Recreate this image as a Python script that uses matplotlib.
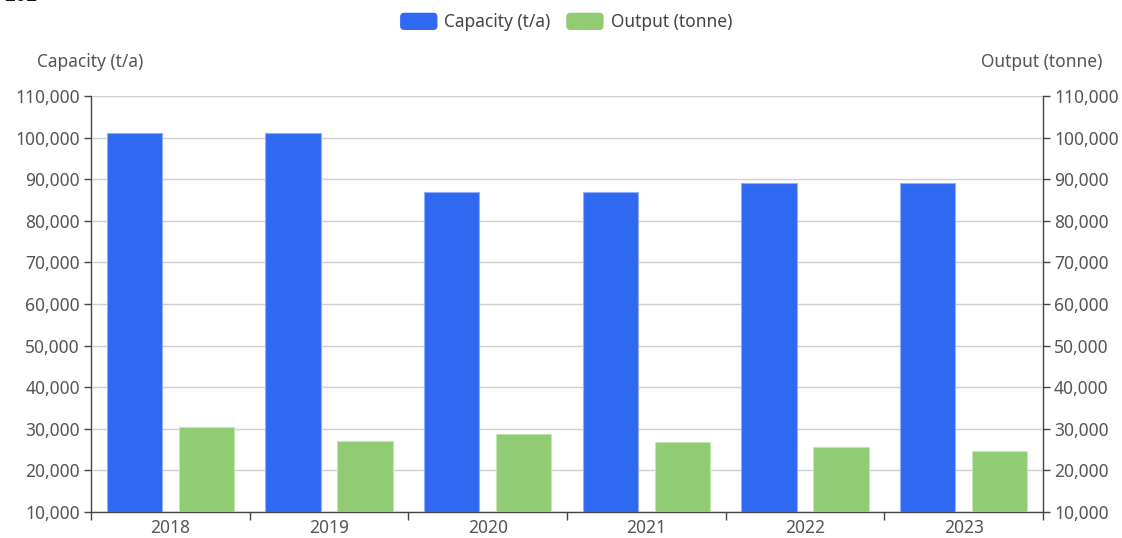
import matplotlib
matplotlib.use("Agg")
import matplotlib.pyplot as plt
import numpy as np
from matplotlib.patches import FancyBboxPatch, Patch
from matplotlib.legend_handler import HandlerPatch
from matplotlib.ticker import FuncFormatter, MultipleLocator

plt.rcParams['font.family'] = ['Noto Sans', 'DejaVu Sans']

years = ['2018', '2019', '2020', '2021', '2022', '2023']
capacity = [101000, 101000, 87000, 87000, 89000, 89000]
output = [30500, 27000, 28700, 26800, 25700, 24600]
series_names = ['Capacity (t/a)', 'Output (tonne)']
colors = ['#3069F1', '#91CB74']

FS = 12.5
W, H = 1122, 538
fig = plt.figure(figsize=(W / 100, H / 100), dpi=100)
left, right, top, bottom = 91, 1043, 96, 512
ax = fig.add_axes([left / W, (H - bottom) / H, (right - left) / W, (bottom - top) / H])

x = np.arange(len(years))
bw = 0.347
off = 0.227
ax.bar(x - off, capacity, width=bw, color=colors[0], edgecolor='#8fb0f7', linewidth=0.8, zorder=3, label=series_names[0])
ax.bar(x + off, output, width=bw, color=colors[1], edgecolor='#c6e5b5', linewidth=0.8, zorder=3, label=series_names[1])

ax.set_xlim(-0.5, len(years) - 0.5)
ax.set_ylim(10000, 110000)
ax.yaxis.set_major_locator(MultipleLocator(10000))
fmt = FuncFormatter(lambda v, p: f"{int(v):,}")
ax.yaxis.set_major_formatter(fmt)
ax.grid(axis='y', color='#d0d0d0', linewidth=1, zorder=0)
ax.set_axisbelow(True)

for s in ['top', 'right']:
    ax.spines[s].set_visible(False)
for s in ['left', 'bottom']:
    ax.spines[s].set_color('#444444')
    ax.spines[s].set_linewidth(1)

ax.set_xticks(np.arange(-0.5, len(years), 1.0))
ax.set_xticklabels([])
ax.set_xticks(x, minor=True)
ax.set_xticklabels(years, minor=True)
ax.tick_params(axis='x', which='major', length=6, width=1, color='#444444', direction='out')
ax.tick_params(axis='x', which='minor', length=0, labelsize=FS, labelcolor='#555555', pad=5)
ax.tick_params(axis='y', length=5, width=1, color='#444444', labelsize=FS, labelcolor='#555555', pad=3)

ax2 = ax.twinx()
ax2.set_ylim(10000, 110000)
ax2.yaxis.set_major_locator(MultipleLocator(10000))
ax2.yaxis.set_major_formatter(fmt)
for s in ['top', 'left', 'bottom']:
    ax2.spines[s].set_visible(False)
ax2.spines['right'].set_color('#444444')
ax2.spines['right'].set_linewidth(1)
ax2.tick_params(axis='y', length=5, width=1, color='#444444', labelsize=FS, labelcolor='#555555', pad=3)

fig.text(90 / W, 1 - 62 / H, series_names[0], ha='center', va='center', fontsize=FS, color='#555555')
fig.text(1042 / W, 1 - 62 / H, series_names[1], ha='center', va='center', fontsize=FS, color='#555555')

# cut-off title fragment at top-left
fig.text(4 / W, 1 + 4 / H, '202', ha='left', va='center', fontsize=14, fontweight='bold', color='#111111')


class RoundHandler(HandlerPatch):
    def create_artists(self, legend, orig_handle, xdescent, ydescent, width, height, fontsize, trans):
        p = FancyBboxPatch((-xdescent, -ydescent), width, height,
                           boxstyle="round,pad=0,rounding_size=3",
                           facecolor=orig_handle.get_facecolor(), edgecolor='none', transform=trans)
        return [p]


handles = [Patch(facecolor=c) for c in colors]
leg = fig.legend(handles, series_names, loc='center', bbox_to_anchor=(566 / W, 1 - 22 / H),
                 ncol=2, frameon=False, fontsize=FS, handlelength=2.15, handleheight=1.15,
                 handletextpad=0.4, columnspacing=0.9,
                 handler_map={Patch: RoundHandler()})
for t in leg.get_texts():
    t.set_color('#444444')

fig.savefig('out.png', dpi=100)
